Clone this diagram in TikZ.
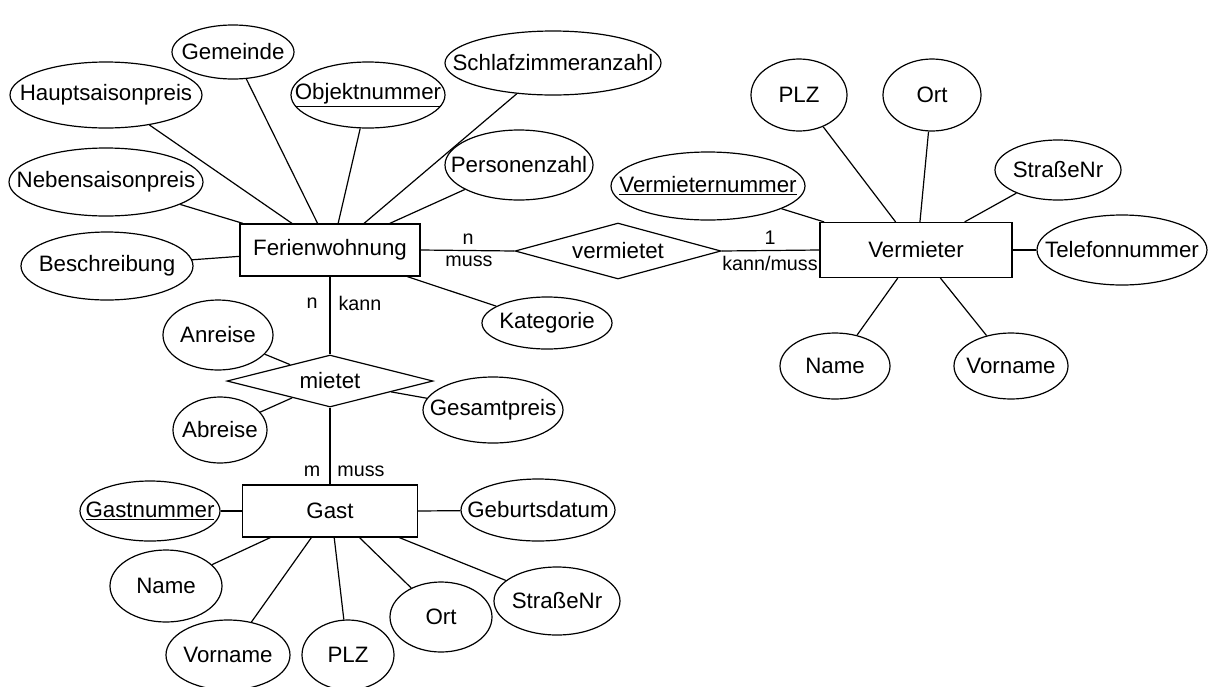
\documentclass[tikz,border=0pt]{standalone}
\usepackage{fontspec}
\setmainfont{Liberation Sans}
\usetikzlibrary{shapes.geometric}
\tikzset{
  attr/.style={ellipse, draw, line width=1.2pt, inner sep=0pt, font=\fontsize{22.3}{26}\selectfont},
  ent/.style={rectangle, draw, line width=1.2pt, inner sep=0pt, font=\fontsize{22.3}{26}\selectfont},
  rel/.style={diamond, draw, line width=1.2pt, aspect=4, inner sep=0pt, font=\fontsize{22.3}{26}\selectfont},
  card/.style={inner sep=0pt, font=\fontsize{19.7}{23}\selectfont},
  conn/.style={line width=1.2pt}
}
\newcommand{\attrnode}[5]{\node[attr, minimum width=#3pt, minimum height=#4pt] (#1) at #2 {\makebox[0pt]{#5}};}
\begin{document}
\begin{tikzpicture}[x=1pt, y=-1pt]
\useasboundingbox (0,0) rectangle (1210,686);
% entities
\node[ent, minimum width=180pt, minimum height=52pt] (fw) at (330,250) {Ferienwohnung};
\node[ent, minimum width=192pt, minimum height=55pt] (verm) at (916,250) {Vermieter};
\node[ent, minimum width=175pt, minimum height=52pt] (gast) at (330,511) {Gast};
% relationships
\node[rel, minimum width=206pt, minimum height=56pt] (vm) at (618,251) {vermietet};
\node[rel, minimum width=206pt, minimum height=52pt] (mt) at (330,381) {mietet};
% attributes Ferienwohnung
\attrnode{gem}{(233,52)}{122}{54}{Gemeinde}
\attrnode{haupt}{(106,95)}{192}{66}{Hauptsaisonpreis}
\attrnode{obj}{(368,95)}{154}{66}{\underline{Objektnummer}}
\attrnode{schlaf}{(553,63)}{216}{64}{Schlafzimmeranzahl}
\attrnode{pers}{(519,165)}{148}{70}{Personenzahl}
\attrnode{neben}{(106,182)}{194}{68}{Nebensaisonpreis}
\attrnode{besch}{(107,266)}{172}{68}{Beschreibung}
\attrnode{kat}{(547,323)}{130}{52}{Kategorie}
% attributes Vermieter
\attrnode{vnr}{(708,186)}{194}{68}{\underline{Vermieternummer}}
\attrnode{vplz}{(799,95)}{96}{72}{PLZ}
\attrnode{vort}{(932,95)}{98}{72}{Ort}
\attrnode{vstr}{(1058,170)}{126}{60}{StraßeNr}
\attrnode{vtel}{(1122,250)}{170}{70}{Telefonnummer}
\attrnode{vname}{(835,366)}{110}{66}{Name}
\attrnode{vvor}{(1011,366)}{114}{66}{Vorname}
% attributes mietet
\attrnode{anr}{(218,335)}{110}{70}{Anreise}
\attrnode{abr}{(220,430)}{94}{66}{Abreise}
\attrnode{ges}{(493,410)}{140}{66}{Gesamtpreis}
% attributes Gast
\attrnode{gnr}{(150,511)}{140}{60}{\underline{Gastnummer}}
\attrnode{geb}{(538,510)}{154}{62}{Geburtsdatum}
\attrnode{gname}{(166,586)}{112}{72}{Name}
\attrnode{gvor}{(228,655)}{124}{70}{Vorname}
\attrnode{gplz}{(348,655)}{92}{70}{PLZ}
\attrnode{gort}{(441,617)}{102}{70}{Ort}
\attrnode{gstr}{(557,601)}{126}{68}{StraßeNr}
% cardinality labels
\node[card] (c1) at (468,239) {n};
\node[card] (c2) at (469,261) {muss};
\node[card] (c3) at (770,238) {1};
\node[card] (c4) at (770,263) {kann/muss};
\node[card] (c5) at (312,303) {n};
\node[card] (c6) at (360,303) {kann};
\node[card] (c7) at (312,471) {m};
\node[card] (c8) at (361,471) {muss};
% connectors
\draw[conn] (fw.east) -- (vm.west);
\draw[conn] (vm.east) -- (verm.west);
\draw[conn] (fw.south) -- (mt.north);
\draw[conn] (mt.south) -- (gast.north);
\draw[conn] (haupt) -- (fw.145);
\draw[conn] (gem) -- (fw.115);
\draw[conn] (obj) -- (fw.73);
\draw[conn] (schlaf) -- (fw.38);
\draw[conn] (pers) -- (fw.24);
\draw[conn] (neben) -- (fw.163);
\draw[conn] (besch) -- (fw.184);
\draw[conn] (kat) -- (fw.341);
\draw[conn] (vplz) -- (verm.126);
\draw[conn] (vort) -- (verm.82);
\draw[conn] (vstr) -- (verm.30);
\draw[conn] (vnr) -- (verm.163);
\draw[conn] (vtel) -- (verm.east);
\draw[conn] (vname) -- (verm.237);
\draw[conn] (vvor) -- (verm.311);
\draw[conn] (anr) -- (mt);
\draw[conn] (abr) -- (mt);
\draw[conn] (ges) -- (mt);
\draw[conn] (gnr) -- (gast.west);
\draw[conn] (geb) -- (gast.east);
\draw[conn] (gname) -- (gast.204);
\draw[conn] (gvor) -- (gast.235);
\draw[conn] (gplz) -- (gast.279);
\draw[conn] (gort) -- (gast.318);
\draw[conn] (gstr) -- (gast.339);
\end{tikzpicture}
\end{document}
